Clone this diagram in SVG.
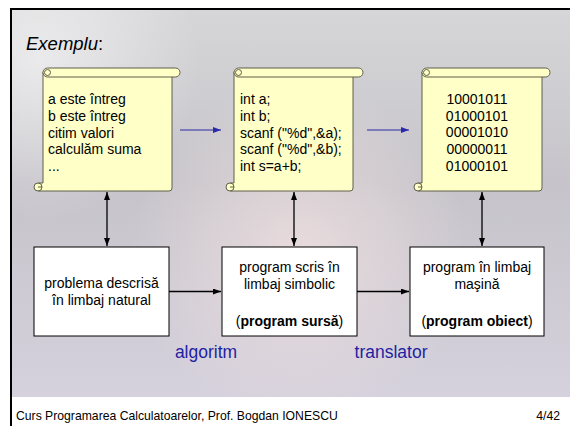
<svg xmlns="http://www.w3.org/2000/svg" width="570" height="426" viewBox="0 0 570 426">
<defs>
<linearGradient id="bg" x1="0" y1="0" x2="0" y2="1">
<stop offset="0" stop-color="#d6d6d8"/>
<stop offset="0.45" stop-color="#c6c4ca"/>
<stop offset="1" stop-color="#d5d1dd"/>
</linearGradient>
<radialGradient id="glow" cx="300" cy="255" r="170" gradientUnits="userSpaceOnUse">
<stop offset="0" stop-color="#f0e0e0" stop-opacity="0.8"/>
<stop offset="1" stop-color="#f0e0e0" stop-opacity="0"/>
</radialGradient>
<radialGradient id="tl" cx="40" cy="60" r="160" gradientUnits="userSpaceOnUse">
<stop offset="0" stop-color="#ffffff" stop-opacity="0.55"/>
<stop offset="1" stop-color="#ffffff" stop-opacity="0"/>
</radialGradient>
<marker id="ah" viewBox="0 0 8 6" refX="8" refY="3" markerWidth="8" markerHeight="6" markerUnits="userSpaceOnUse" orient="auto-start-reverse">
<path d="M0,0 L8,3 L0,6 Z" fill="#000"/>
</marker>
<marker id="ahb" viewBox="0 0 8 6" refX="8" refY="3" markerWidth="8" markerHeight="6" markerUnits="userSpaceOnUse" orient="auto">
<path d="M0,0 L8,3 L0,6 Z" fill="#2a2aa8"/>
</marker>
</defs>
<style>
.scroll{fill:#ffffc8;stroke:#5f5f4a;stroke-width:1}
.box{fill:#fff;stroke:#000;stroke-width:1}
.st{font-family:"Liberation Sans",Arial,sans-serif;font-size:14px;fill:#000}
.bt{font-family:"Liberation Sans",Arial,sans-serif;font-size:14px;fill:#000;text-anchor:middle}
.lab{font-family:"Liberation Sans",Arial,sans-serif;font-size:17.5px;fill:#1f1fa3;text-anchor:middle}
.ft{font-family:"Liberation Sans",Arial,sans-serif;font-size:12.2px;fill:#000}
.con{stroke:#000;stroke-width:1.3;fill:none}
.conb{stroke:#2a2aa8;stroke-width:1.2;fill:none}
</style>
<rect x="0" y="0" width="570" height="426" fill="#fff"/>
<rect x="11" y="9" width="559" height="388" fill="url(#bg)"/>
<rect x="11" y="9" width="559" height="388" fill="url(#glow)"/>
<rect x="11" y="9" width="559" height="388" fill="url(#tl)"/>
<path d="M11,426 V9 H570" fill="none" stroke="#000" stroke-width="2"/>
<text x="26" y="50" font-family="'Liberation Sans',Arial,sans-serif" font-size="18.5" fill="#000"><tspan font-style="italic">Exemplu</tspan>:</text>

<g id="scroll1">
<path class="scroll" d="M43,72 H172 V188 a3,3 0 0 1 -3,3 H38 V183 H43 Z"/>
<rect class="scroll" x="43" y="68" width="137" height="9" rx="4.5"/>
<circle class="scroll" cx="47.5" cy="72.5" r="3"/>
<circle class="scroll" cx="38" cy="187" r="4"/>
<path d="M38,187 h4" stroke="#5f5f4a" fill="none"/>
<text class="st" x="48" y="104">a este întreg</text>
<text class="st" x="48" y="121">b este întreg</text>
<text class="st" x="48" y="137.5">citim valori</text>
<text class="st" x="48" y="154">calculăm suma</text>
<text class="st" x="48" y="171">...</text>
</g>

<g id="scroll2">
<path class="scroll" d="M234,72 H353 V188 a3,3 0 0 1 -3,3 H230 V183 H234 Z"/>
<rect class="scroll" x="234" y="68" width="129" height="9" rx="4.5"/>
<circle class="scroll" cx="238.5" cy="72.5" r="3"/>
<circle class="scroll" cx="230" cy="187" r="4"/>
<path d="M230,187 h4" stroke="#5f5f4a" fill="none"/>
<text class="st" x="240" y="104">int a;</text>
<text class="st" x="240" y="121">int b;</text>
<text class="st" x="240" y="137.5">scanf ("%d",&amp;a);</text>
<text class="st" x="240" y="154">scanf ("%d",&amp;b);</text>
<text class="st" x="240" y="171">int s=a+b;</text>
</g>

<g id="scroll3">
<path class="scroll" d="M422,72 H542 V188 a3,3 0 0 1 -3,3 H418 V183 H422 Z"/>
<rect class="scroll" x="422" y="68" width="128" height="9" rx="4.5"/>
<circle class="scroll" cx="426.5" cy="72.5" r="3"/>
<circle class="scroll" cx="418" cy="187" r="4"/>
<path d="M418,187 h4" stroke="#5f5f4a" fill="none"/>
<text class="st" x="477" y="103.5" text-anchor="middle">10001011</text>
<text class="st" x="477" y="120.5" text-anchor="middle">01000101</text>
<text class="st" x="477" y="137" text-anchor="middle">00001010</text>
<text class="st" x="477" y="154" text-anchor="middle">00000011</text>
<text class="st" x="477" y="171" text-anchor="middle">01000101</text>
</g>

<g id="box1">
<rect class="box" x="34" y="247" width="135" height="89"/>
<text class="bt" x="101.5" y="288">problema descrisă</text>
<text class="bt" x="101.5" y="305">în limbaj natural</text>
</g>
<g id="box2">
<rect class="box" x="222" y="247" width="135" height="89"/>
<text class="bt" x="289.5" y="272">program scris în</text>
<text class="bt" x="289.5" y="289">limbaj simbolic</text>
<text class="bt" x="289.5" y="326">(<tspan font-weight="bold">program sursă</tspan>)</text>
</g>
<g id="box3">
<rect class="box" x="410" y="247" width="134" height="89"/>
<text class="bt" x="477" y="272">program în limbaj</text>
<text class="bt" x="477" y="289">maşină</text>
<text class="bt" x="477" y="326">(<tspan font-weight="bold">program obiect</tspan>)</text>
</g>

<g id="connectors">
<line class="conb" x1="180" y1="130" x2="221" y2="130" marker-end="url(#ahb)"/>
<line class="conb" x1="367" y1="130" x2="409" y2="130" marker-end="url(#ahb)"/>
<line class="con" x1="107" y1="192" x2="107" y2="246" marker-start="url(#ah)" marker-end="url(#ah)"/>
<line class="con" x1="294" y1="192" x2="294" y2="246" marker-start="url(#ah)" marker-end="url(#ah)"/>
<line class="con" x1="482" y1="192" x2="482" y2="246" marker-start="url(#ah)" marker-end="url(#ah)"/>
<line class="con" x1="169" y1="291.5" x2="221" y2="291.5" marker-end="url(#ah)"/>
<line class="con" x1="357" y1="291.5" x2="409" y2="291.5" marker-end="url(#ah)"/>
</g>

<text class="lab" x="206" y="358">algoritm</text>
<text class="lab" x="391" y="358">translator</text>

<text class="ft" x="16" y="420">Curs Programarea Calculatoarelor, Prof. Bogdan IONESCU</text>
<text class="ft" x="560" y="420" text-anchor="end">4/42</text>
</svg>
